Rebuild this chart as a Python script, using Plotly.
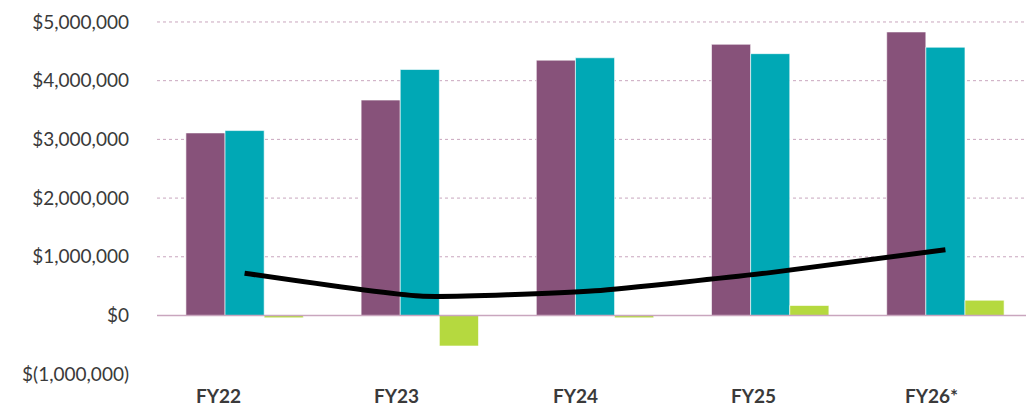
import plotly.graph_objects as go

categories = ["FY22", "FY23", "FY24", "FY25", "FY26*"]
series_a = [3110000, 3670000, 4350000, 4620000, 4830000]   # purple
series_b = [3150000, 4190000, 4390000, 4460000, 4570000]   # teal
series_c = [-40000, -520000, -40000, 170000, 260000]       # green
line_vals = [720000, 330000, 420000, 730000, 1120000]      # black line

tick_vals = [-1000000, 0, 1000000, 2000000, 3000000, 4000000, 5000000]
tick_text = ["$(1,000,000)", "$0", "$1,000,000", "$2,000,000", "$3,000,000",
             "$4,000,000", "$5,000,000"]

PURPLE = "#87527A"
TEAL = "#00A8B5"
GREEN = "#B5D93F"
GRID = "#C9A6BE"
TXT = "#3A3A3A"

fig = go.Figure()
for vals, col in [(series_a, PURPLE), (series_b, TEAL), (series_c, GREEN)]:
    fig.add_trace(go.Bar(x=categories, y=vals, marker=dict(color=col, line=dict(color="rgba(255,255,255,0.6)", width=1)),
                         showlegend=False, hoverinfo="skip"))
fig.add_trace(go.Scatter(x=categories, y=line_vals, mode="lines",
                         line=dict(color="#000000", width=5, shape="spline", smoothing=0.5),
                         showlegend=False, hoverinfo="skip"))

# gridlines
for v in tick_vals:
    if v > 0:
        fig.add_shape(type="line", xref="paper", x0=0, x1=1, yref="y", y0=v, y1=v,
                      line=dict(color=GRID, width=1, dash="dot"), layer="below")
fig.add_shape(type="line", xref="paper", x0=0, x1=1, yref="y", y0=0, y1=0,
              line=dict(color=GRID, width=1.5), layer="above")

for i, c in enumerate(categories):
    fig.add_annotation(x=c, xref="x", y=0, yref="paper", yanchor="middle", yshift=-15,
                       xshift=-26 + 3 * i, text="<b>%s</b>" % c, showarrow=False,
                       font=dict(family="Lato", size=19, color=TXT))

fig.update_layout(
    width=1026, height=408,
    margin=dict(l=157, r=0, t=10, b=28),
    paper_bgcolor="white", plot_bgcolor="white",
    barmode="group", bargap=0.33, bargroupgap=0,
    xaxis=dict(range=[-0.5, 4.46], showticklabels=False, showgrid=False, zeroline=False, showline=False),
    yaxis=dict(range=[-1099000, 5204000], tickvals=tick_vals, ticktext=tick_text,
               showgrid=False, zeroline=False, showline=False, ticks="",
               ticklabelstandoff=27, tickfont=dict(family="Lato", size=19, color=TXT)),
)
fig.write_html("out.html")
